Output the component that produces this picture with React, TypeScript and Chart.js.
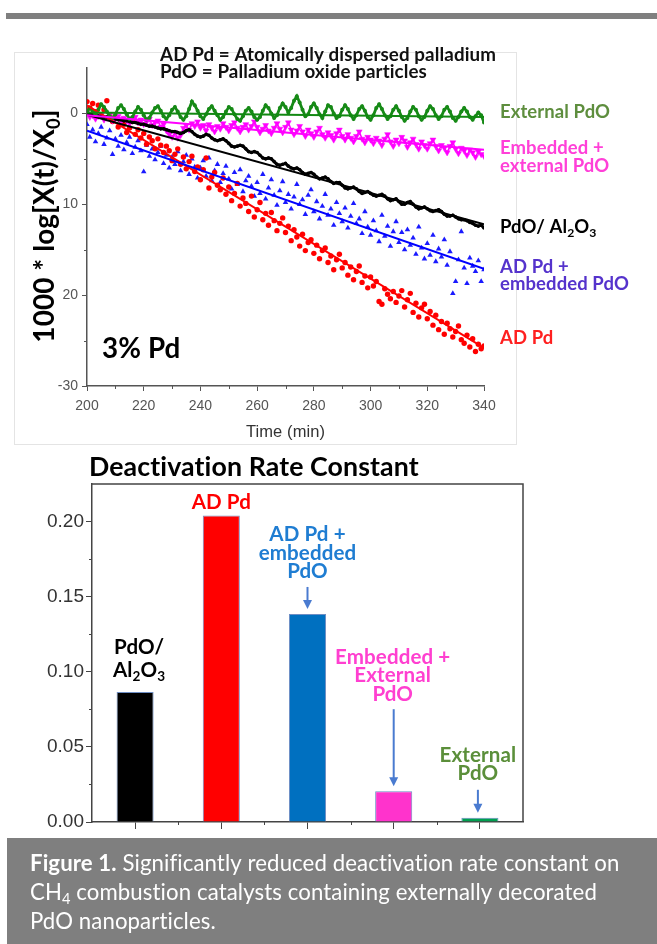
import React, { useEffect, useRef } from "react";
import { Chart, registerables } from "chart.js";

Chart.register(...registerables);

// ---------------- data: top panel (time series) ----------------
const TIME = [
  200, 201, 202, 203, 204, 205, 206, 207, 208, 209,
  210, 211, 212, 213, 214, 215, 216, 217, 218, 219,
  220, 221, 222, 223, 224, 225, 226, 227, 228, 229,
  230, 231, 232, 233, 234, 235, 236, 237, 238, 239,
  240, 241, 242, 243, 244, 245, 246, 247, 248, 249,
  250, 251, 252, 253, 254, 255, 256, 257, 258, 259,
  260, 261, 262, 263, 264, 265, 266, 267, 268, 269,
  270, 271, 272, 273, 274, 275, 276, 277, 278, 279,
  280, 281, 282, 283, 284, 285, 286, 287, 288, 289,
  290, 291, 292, 293, 294, 295, 296, 297, 298, 299,
  300, 301, 302, 303, 304, 305, 306, 307, 308, 309,
  310, 311, 312, 313, 314, 315, 316, 317, 318, 319,
  320, 321, 322, 323, 324, 325, 326, 327, 328, 329,
  330, 331, 332, 333, 334, 335, 336, 337, 338, 339,
  340,
];

const EXTERNAL_PDO = [
  0.2, 0.6, 0.3, -0.2, 0.4, 1.0, 0.7, 0.2, -0.3, -0.5,
  -0.1, 0.6, 0.9, 0.5, -0.1, -0.6, -0.4, 0.2, 0.7, 0.4,
  -0.2, -0.7, -0.5, 0.1, 0.6, 0.8, 0.3, -0.3, -0.6, -0.2,
  0.4, 0.7, 0.2, -0.4, -0.7, -0.3, 0.5, 1.3, 0.9, 0.3,
  -0.3, -0.6, -0.1, 0.5, 0.8, 0.3, -0.2, -0.7, -0.4, 0.2,
  0.7, 0.5, -0.1, -0.6, -0.8, -0.3, 0.3, 0.6, 0.2, -0.4,
  -0.7, -0.4, 0.3, 0.9, 0.6, 0.0, -0.5, -0.2, 0.6, 1.1,
  0.7, 0.1, 0.6, 1.4, 1.9, 1.2, 0.4, -0.3, -0.1, 0.7,
  1.1, 0.6, -0.1, -0.5, 0.2, 0.9, 0.7, 0.0, -0.5, -0.3,
  0.4, 0.9, 0.5, -0.2, -0.6, -0.2, 0.5, 0.8, 0.3, -0.4,
  -0.7, -0.2, 0.6, 1.0, 0.5, -0.2, -0.6, -0.3, 0.4, 0.8,
  0.3, -0.4, -0.8, -0.5, 0.2, 0.7, 0.4, -0.3, -0.7, -0.4,
  0.3, 0.8, 0.5, -0.2, -0.6, -0.3, 0.4, 0.7, 0.2, -0.5,
  -0.8, -0.4, 0.2, 0.6, 0.2, -0.4, -0.7, -0.3, 0.1, -0.2,
  -1.0,
];

const EMBEDDED_EXTERNAL_PDO = [
  0.0, -0.4, -0.2, -0.6, -0.3, -0.1, -0.7, -0.5, -0.2, -0.8,
  -0.6, -0.3, -0.9, -0.5, -0.8, -1.1, -0.6, -0.4, -1.0, -0.7,
  -1.2, -0.9, -0.6, -1.3, -1.0, -0.8, -1.5, -1.2, -1.9, -2.3,
  -2.6, -2.1, -2.7, -2.4, -1.6, -1.3, -1.8, -1.1, -1.4, -0.9,
  -1.6, -1.3, -1.9, -1.2, -1.6, -2.0, -1.4, -1.7, -1.1, -1.5,
  -1.9, -1.3, -1.0, -1.6, -2.0, -1.5, -1.2, -1.8, -1.4, -0.9,
  -1.5, -2.1, -1.7, -1.3, -1.9, -2.2, -1.6, -1.1, -1.7, -2.1,
  -1.5, -1.0, -1.8, -2.3, -1.9, -1.4, -2.0, -2.5, -1.8, -2.2,
  -2.6, -2.0, -1.6, -2.3, -2.7, -2.1, -2.4, -2.9, -2.2, -1.8,
  -2.5, -2.9, -2.3, -2.7, -3.1, -2.5, -2.0, -2.8, -3.2, -2.6,
  -2.9, -3.3, -2.7, -3.0, -3.5, -2.8, -2.3, -3.1, -3.6, -2.9,
  -3.3, -2.6, -3.0, -3.7, -3.2, -2.8, -3.4, -3.9, -3.1, -3.5,
  -3.9, -3.3, -2.9, -3.6, -4.1, -3.5, -3.8, -4.3, -3.6, -3.2,
  -3.9, -4.4, -3.8, -4.1, -4.6, -4.0, -4.3, -4.8, -4.2, -4.5,
  -4.7,
];

const PDO_AL2O3 = [
  0.0, -0.1, -0.1, -0.2, -0.3, -0.3, -0.4, -0.4, -0.5, -0.5,
  -0.6, -0.7, -0.7, -0.8, -0.8, -0.9, -1.0, -1.0, -1.1, -1.2,
  -1.2, -1.3, -1.4, -1.4, -1.5, -1.6, -1.7, -1.7, -1.8, -1.9,
  -2.0, -2.0, -2.1, -2.2, -2.1, -1.9, -1.8, -2.0, -2.3, -2.5,
  -2.6, -2.5, -2.3, -2.4, -2.7, -2.9, -3.0, -2.9, -2.8, -3.0,
  -3.3, -3.6, -3.7, -3.6, -3.5, -3.6, -3.9, -4.2, -4.3, -4.2,
  -4.3, -4.6, -4.9, -5.0, -4.9, -5.0, -5.3, -5.6, -5.7, -5.6,
  -5.5, -5.8, -6.0, -6.1, -6.0, -6.2, -6.5, -6.7, -6.6, -6.5,
  -6.7, -7.0, -7.2, -7.1, -7.0, -7.2, -7.5, -7.7, -7.6, -7.6,
  -7.9, -8.2, -8.3, -8.2, -8.1, -8.3, -8.6, -8.8, -8.7, -8.6,
  -8.8, -9.0, -9.1, -9.0, -8.9, -9.1, -9.4, -9.6, -9.5, -9.4,
  -9.7, -10.0, -10.0, -9.8, -9.7, -10.0, -10.3, -10.5, -10.4, -10.3,
  -10.5, -10.7, -10.8, -10.7, -10.6, -10.8, -11.1, -11.3, -11.3, -11.2,
  -11.4, -11.6, -11.7, -11.7, -11.8, -12.0, -12.1, -12.3, -12.4, -12.3,
  -12.6,
];

const AD_PD_EMBEDDED_PDO = [
  -1.2, -2.6, -1.8, -3.1, -2.2, -1.5, -3.4, -2.7, -1.9, -4.5,
  -2.8, -3.6, -2.4, -4.0, -3.2, -2.6, -4.4, -3.7, -3.0, -4.1,
  -6.4, -3.5, -4.7, -3.9, -5.1, -4.3, -3.6, -5.5, -4.6, -6.0,
  -4.8, -5.6, -4.2, -6.3, -5.3, -4.6, -6.7, -5.0, -5.9, -7.1,
  -6.0, -5.2, -6.9, -4.9, -7.4, -6.3, -5.6, -7.6, -6.6, -5.8,
  -7.2, -8.3, -6.5, -7.8, -6.2, -8.6, -7.4, -6.9, -8.0, -9.1,
  -7.6, -8.8, -6.7, -9.4, -8.2, -7.3, -9.0, -10.1, -8.5, -7.5,
  -9.8, -8.9, -10.5, -9.2, -7.8, -10.0, -9.5, -11.1, -9.0, -8.4,
  -10.8, -9.7, -11.6, -10.2, -8.9, -11.2, -10.5, -12.3, -9.8, -11.0,
  -11.9, -10.4, -12.6, -11.3, -9.9, -12.1, -11.6, -13.2, -10.8, -12.5,
  -13.4, -11.8, -12.9, -14.1, -11.2, -13.5, -12.4, -14.6, -13.0, -11.9,
  -14.2, -13.1, -15.0, -12.8, -14.5, -13.7, -15.5, -12.5, -14.8, -16.0,
  -14.3, -15.6, -13.4, -16.3, -14.9, -15.8, -13.9, -16.7, -15.2, -19.8,
  -18.5, -16.1, -13.0, -17.0, -18.7, -15.9, -16.8, -17.4, -16.2, -18.5,
  -17.2,
];

const AD_PD = [
  1.3, 0.6, 1.1, 0.2, 0.9, -0.3, 0.4, 1.4, -0.2, -0.9,
  -0.4, -1.5, -0.8, -1.2, -2.1, -1.6, -0.9, -2.3, -1.8, -2.7,
  -2.2, -3.4, -2.6, -3.0, -3.9, -2.8, -3.5, -4.3, -3.6, -4.1,
  -5.2, -4.5, -3.9, -5.6, -4.8, -6.1, -5.3, -4.7, -6.4, -5.9,
  -7.3, -6.2, -4.9, -8.2, -7.0, -6.5, -7.9, -8.4, -7.1, -8.9,
  -8.1, -9.6, -8.8, -7.7, -10.2, -9.3, -9.9, -10.8, -9.1, -11.4,
  -10.6, -9.8, -11.7, -11.0, -12.3, -10.9, -11.8, -12.9, -12.1, -11.5,
  -13.1, -12.4, -14.0, -12.8, -13.6, -14.6, -13.3, -15.1, -14.2, -13.9,
  -15.4, -14.5, -16.0, -15.1, -14.8, -16.4, -15.7, -17.2, -16.1, -15.5,
  -17.0, -16.4, -17.8, -16.9, -18.3, -17.4, -16.8, -18.6, -17.9, -19.2,
  -18.0, -19.0, -18.5, -20.7, -21.0, -19.3, -19.9, -20.4, -19.6, -20.8,
  -20.1, -19.5, -21.3, -20.5, -19.8, -21.9, -20.9, -22.4, -21.4, -21.0,
  -22.6, -21.8, -23.3, -22.2, -23.8, -22.9, -24.3, -23.1, -23.7, -24.6,
  -24.0, -23.4, -24.9, -25.3, -24.4, -25.7, -24.8, -26.2, -25.4, -25.9,
  -25.6,
];

// linear fits (end points)
const FIT_TIME = [200, 340];
const FIT_EXTERNAL_PDO = [0.1, -0.4];
const FIT_EMBEDDED_EXTERNAL_PDO = [-0.2, -4.0];
const FIT_PDO_AL2O3 = [-0.15, -12.2];
const FIT_AD_PD_EMBEDDED_PDO = [-1.9, -17.1];
const FIT_AD_PD = [0.9, -25.8];

const X_TICKS = [200, 220, 240, 260, 280, 300, 320, 340];
const X_MINOR = [210, 230, 250, 270, 290, 310, 330];
const Y_TICK_VALUES = [0, -10, -20, -30];
const Y_TICK_TEXT = ["0", "10", "20", "-30"];
const Y_MINOR = [-5, -15, -25];

// ---------------- data: bottom panel (bar chart) ----------------
const BAR_CATEGORIES = [
  "PdO/Al2O3",
  "AD Pd",
  "AD Pd + embedded PdO",
  "Embedded + External PdO",
  "External PdO",
];
const BAR_VALUES = [0.0865, 0.204, 0.1385, 0.0205, 0.0028];
const BAR_Y_MINOR = [0.025, 0.075, 0.125, 0.175];

// ---------------- styles ----------------
const FONT = "Lato, 'Noto Sans', sans-serif";
const ARIAL = "'Liberation Sans', Arial, sans-serif";
const BAR_COLORS = ["#000000", "#ff0000", "#0070c0", "#ff33cc", "#00a050"];
const OY = 450;

type Seg = { t: string; sub?: boolean; bold?: boolean };

function segFont(s: Seg, size: number, weight: string, family: string) {
  const w = s.bold ? "bold" : weight;
  return `${w} ${s.sub ? size * 0.66 : size}px ${family}`;
}
function setSpacing(ctx: any) {
  if ("letterSpacing" in ctx) ctx.letterSpacing = "0.1px";
}
function richWidth(ctx: CanvasRenderingContext2D, segs: Seg[], size: number, weight: string, family: string) {
  let w = 0;
  setSpacing(ctx);
  for (const s of segs) {
    ctx.font = segFont(s, size, weight, family);
    w += ctx.measureText(s.t).width;
  }
  return w;
}
function fitSize(ctx: CanvasRenderingContext2D, segs: Seg[], target: number, weight: string, family: string) {
  return (100 * target) / richWidth(ctx, segs, 100, weight, family);
}
function drawRich(
  ctx: CanvasRenderingContext2D,
  segs: Seg[],
  x: number,
  y: number,
  size: number,
  weight: string,
  family: string,
  color: string,
  align: "left" | "center" | "right" = "left"
) {
  const w = richWidth(ctx, segs, size, weight, family);
  let cx = align === "center" ? x - w / 2 : align === "right" ? x - w : x;
  ctx.fillStyle = color;
  ctx.textAlign = "left";
  ctx.textBaseline = "alphabetic";
  setSpacing(ctx);
  for (const s of segs) {
    ctx.font = segFont(s, size, weight, family);
    ctx.fillText(s.t, cx, s.sub ? y + size * 0.2 : y);
    cx += ctx.measureText(s.t).width;
  }
  if ("letterSpacing" in ctx) (ctx as any).letterSpacing = "0px";
}
const T = (t: string): Seg[] => [{ t }];

const topDecor = {
  id: "topDecor",
  beforeDraw(chart: any) {
    const ctx = chart.ctx as CanvasRenderingContext2D;
    ctx.save();
    ctx.fillStyle = "#ffffff";
    ctx.fillRect(0, 0, chart.width, chart.height);
    ctx.fillStyle = "#7f7f7f";
    ctx.fillRect(6, 13, 651, 6);
    ctx.strokeStyle = "#e4e4e4";
    ctx.lineWidth = 1;
    ctx.strokeRect(14.5, 52.5, 502, 392);
    ctx.restore();
  },
  afterDraw(chart: any) {
    const ctx = chart.ctx as CanvasRenderingContext2D;
    const xs = chart.scales.x;
    const ys = chart.scales.y;
    const area = chart.chartArea;
    ctx.save();
    // minor ticks
    ctx.strokeStyle = "#555";
    ctx.lineWidth = 1;
    for (const v of X_MINOR) {
      const px = Math.round(xs.getPixelForValue(v)) + 0.5;
      ctx.beginPath();
      ctx.moveTo(px, area.bottom);
      ctx.lineTo(px, area.bottom + 3);
      ctx.stroke();
    }
    for (const v of Y_MINOR) {
      const py = Math.round(ys.getPixelForValue(v)) + 0.5;
      ctx.beginPath();
      ctx.moveTo(area.left, py);
      ctx.lineTo(area.left - 3, py);
      ctx.stroke();
    }
    // header
    const h1 = T("AD Pd = Atomically dispersed palladium");
    const hs = fitSize(ctx, h1, 333, "bold", FONT);
    drawRich(ctx, h1, 160, 61, hs, "bold", FONT, "#111");
    drawRich(ctx, T("PdO = Palladium oxide particles"), 160, 77.5, hs, "bold", FONT, "#111");
    // 3% Pd
    const p3 = T("3% Pd");
    drawRich(ctx, p3, 102, 358, fitSize(ctx, p3, 78, "bold", FONT), "bold", FONT, "#000");
    // y title (rotated)
    const yt: Seg[] = [{ t: "1000 * log[X(t)/X" }, { t: "0", sub: true }, { t: "]" }];
    const ys2 = fitSize(ctx, yt, 232, "bold", FONT);
    ctx.save();
    ctx.translate(54, 226);
    ctx.rotate(-Math.PI / 2);
    drawRich(ctx, yt, 0, 0, ys2, "bold", FONT, "#000", "center");
    ctx.restore();
    // x title
    ctx.font = `16.5px ${ARIAL}`;
    ctx.fillStyle = "#333";
    ctx.textAlign = "center";
    ctx.textBaseline = "alphabetic";
    ctx.fillText("Time (min)", (area.left + area.right) / 2, 437);
    // right-side labels
    const ls = fitSize(ctx, T("embedded PdO"), 128, "bold", FONT);
    const lx = 500;
    drawRich(ctx, T("External PdO"), lx, 118, ls, "bold", FONT, "#5e8e3e");
    drawRich(ctx, T("Embedded +"), lx, 154, ls, "bold", FONT, "#ff40d8");
    drawRich(ctx, T("external PdO"), lx, 172, ls, "bold", FONT, "#ff40d8");
    drawRich(
      ctx,
      [{ t: "PdO/ Al" }, { t: "2", sub: true }, { t: "O" }, { t: "3", sub: true }],
      lx,
      233,
      ls,
      "bold",
      FONT,
      "#000"
    );
    drawRich(ctx, T("AD Pd +"), lx, 273, ls, "bold", FONT, "#5533cc");
    drawRich(ctx, T("embedded PdO"), lx, 290, ls, "bold", FONT, "#5533cc");
    drawRich(ctx, T("AD Pd"), lx, 344, ls, "bold", FONT, "#ff2020");
    ctx.restore();
  },
};

function arrow(ctx: CanvasRenderingContext2D, x: number, y0: number, y1: number, color: string) {
  ctx.strokeStyle = color;
  ctx.fillStyle = color;
  ctx.lineWidth = 2;
  ctx.beginPath();
  ctx.moveTo(x, y0);
  ctx.lineTo(x, y1 - 7);
  ctx.stroke();
  ctx.beginPath();
  ctx.moveTo(x - 4.5, y1 - 9);
  ctx.lineTo(x + 4.5, y1 - 9);
  ctx.lineTo(x, y1);
  ctx.closePath();
  ctx.fill();
}

const barDecor = {
  id: "barDecor",
  beforeDraw(chart: any) {
    const ctx = chart.ctx as CanvasRenderingContext2D;
    ctx.save();
    ctx.fillStyle = "#ffffff";
    ctx.fillRect(0, 0, chart.width, chart.height);
    ctx.restore();
  },
  afterDraw(chart: any) {
    const ctx = chart.ctx as CanvasRenderingContext2D;
    const xs = chart.scales.x;
    const ys = chart.scales.y;
    const area = chart.chartArea;
    ctx.save();
    // frame top + right
    ctx.strokeStyle = "#444";
    ctx.lineWidth = 1.5;
    ctx.beginPath();
    ctx.moveTo(area.left, area.top);
    ctx.lineTo(area.right, area.top);
    ctx.lineTo(area.right, area.bottom);
    ctx.stroke();
    // minor ticks
    ctx.lineWidth = 1;
    for (const v of BAR_Y_MINOR) {
      const py = Math.round(ys.getPixelForValue(v)) + 0.5;
      ctx.beginPath();
      ctx.moveTo(area.left, py);
      ctx.lineTo(area.left - 3, py);
      ctx.stroke();
    }
    for (let i = 0; i < BAR_VALUES.length - 1; i++) {
      const px = Math.round((xs.getPixelForValue(i) + xs.getPixelForValue(i + 1)) / 2) + 0.5;
      ctx.beginPath();
      ctx.moveTo(px, area.bottom);
      ctx.lineTo(px, area.bottom + 3);
      ctx.stroke();
    }

    ctx.translate(0, -OY);
    // title
    const tt = T("Deactivation Rate Constant");
    drawRich(ctx, tt, 89, 476, fitSize(ctx, tt, 328, "bold", FONT), "bold", FONT, "#000");

    const bs = fitSize(ctx, T("embedded"), 97, "bold", FONT);
    const cx = (i: number) => xs.getPixelForValue(i);
    const top = (i: number) => ys.getPixelForValue(BAR_VALUES[i]) + OY;
    // PdO/Al2O3
    drawRich(ctx, T("PdO/"), cx(0) + 4, top(0) - 38, bs, "bold", FONT, "#000", "center");
    drawRich(
      ctx,
      [{ t: "Al" }, { t: "2", sub: true }, { t: "O" }, { t: "3", sub: true }],
      cx(0) + 4,
      top(0) - 15,
      bs,
      "bold",
      FONT,
      "#000",
      "center"
    );
    // AD Pd
    drawRich(ctx, T("AD Pd"), cx(1), top(1) - 7, bs, "bold", FONT, "#ff0000", "center");
    // AD Pd + embedded PdO
    const blue = "#1f7dd2";
    drawRich(ctx, T("AD Pd +"), cx(2), top(2) - 73, bs, "bold", FONT, blue, "center");
    drawRich(ctx, T("embedded"), cx(2), top(2) - 54, bs, "bold", FONT, blue, "center");
    drawRich(ctx, T("PdO"), cx(2), top(2) - 36, bs, "bold", FONT, blue, "center");
    arrow(ctx, cx(2), top(2) - 27, top(2) - 5, "#4a7bd0");
    // Embedded + External PdO
    const pink = "#ff3fd0";
    drawRich(ctx, T("Embedded +"), cx(3) - 1, top(3) - 127, bs, "bold", FONT, pink, "center");
    drawRich(ctx, T("External"), cx(3) - 1, top(3) - 109, bs, "bold", FONT, pink, "center");
    drawRich(ctx, T("PdO"), cx(3) - 1, top(3) - 90, bs, "bold", FONT, pink, "center");
    arrow(ctx, cx(3), top(3) - 82, top(3) - 5, "#4a7bd0");
    // External PdO
    const green = "#5b8f3a";
    drawRich(ctx, T("External"), cx(4) - 2, top(4) - 56, bs, "bold", FONT, green, "center");
    drawRich(ctx, T("PdO"), cx(4) - 2, top(4) - 38, bs, "bold", FONT, green, "center");
    arrow(ctx, cx(4) - 2, top(4) - 28, top(4) - 5, "#4a7bd0");

    // caption box
    ctx.fillStyle = "#7f7f7f";
    ctx.fillRect(7, 838, 650, 106);
    const l1: Seg[] = [{ t: "Figure 1.", bold: true }, { t: " Significantly reduced deactivation rate constant on" }];
    const cs = fitSize(ctx, l1, 585, "normal", FONT);
    drawRich(ctx, l1, 30, 871, cs, "normal", FONT, "#ffffff");
    drawRich(
      ctx,
      [{ t: "CH" }, { t: "4", sub: true }, { t: " combustion catalysts containing externally decorated" }],
      30,
      900,
      cs,
      "normal",
      FONT,
      "#ffffff"
    );
    drawRich(ctx, T("PdO nanoparticles."), 30, 929, cs, "normal", FONT, "#ffffff");
    ctx.restore();
  },
};

const pts = (xs: number[], ys: number[]) => xs.map((x, i) => ({ x, y: ys[i] }));

export default function App() {
  const topRef = useRef<HTMLCanvasElement>(null);
  const botRef = useRef<HTMLCanvasElement>(null);

  useEffect(() => {
    const fit = (ys: number[], color: string) => ({
      data: pts(FIT_TIME, ys),
      showLine: true,
      borderColor: color,
      borderWidth: 2,
      pointRadius: 0,
      order: 0,
    });
    const c1 = new Chart(topRef.current as HTMLCanvasElement, {
      type: "scatter",
      data: {
        datasets: [
          fit(FIT_EXTERNAL_PDO, "#118811"),
          fit(FIT_EMBEDDED_EXTERNAL_PDO, "#ff00ff"),
          fit(FIT_PDO_AL2O3, "#000000"),
          fit(FIT_AD_PD_EMBEDDED_PDO, "#0000ff"),
          fit(FIT_AD_PD, "#ff0000"),
          {
            data: pts(TIME, EXTERNAL_PDO),
            showLine: true,
            borderColor: "#168a16",
            borderWidth: 2.8,
            pointRadius: 2,
            pointBackgroundColor: "#168a16",
            pointBorderWidth: 0,
            order: 1,
          },
          {
            data: pts(TIME, PDO_AL2O3),
            showLine: true,
            borderColor: "#000000",
            borderWidth: 3,
            pointRadius: 1.8,
            pointBackgroundColor: "#000000",
            pointBorderWidth: 0,
            order: 2,
          },
          {
            data: pts(TIME, EMBEDDED_EXTERNAL_PDO),
            showLine: true,
            borderColor: "#ff00ff",
            borderWidth: 1.5,
            pointStyle: "triangle",
            rotation: 180,
            pointRadius: 3.4,
            pointBackgroundColor: "#ff00ff",
            pointBorderColor: "#ff00ff",
            pointBorderWidth: 0.5,
            order: 3,
          },
          {
            data: pts(TIME, AD_PD),
            pointRadius: 2.7,
            pointBackgroundColor: "#ff0000",
            pointBorderColor: "#ff0000",
            pointBorderWidth: 0,
            order: 4,
          },
          {
            data: pts(TIME, AD_PD_EMBEDDED_PDO),
            pointStyle: "triangle",
            pointRadius: 3.2,
            pointBackgroundColor: "#1a1aff",
            pointBorderColor: "#1a1aff",
            pointBorderWidth: 0,
            order: 5,
          },
        ],
      },
      options: {
        animation: false,
        responsive: false,
        devicePixelRatio: 1,
        layout: { padding: { top: 68, right: 173, left: 0, bottom: 0 } },
        plugins: { legend: { display: false }, tooltip: { enabled: false }, title: { display: false } },
        scales: {
          x: {
            type: "linear",
            min: 200,
            max: 340,
            bounds: "data",
            afterFit: (s: any) => {
              s.height = 64;
            },
            afterBuildTicks: (s: any) => {
              s.ticks = X_TICKS.map((v) => ({ value: v }));
            },
            ticks: { font: { size: 14, family: ARIAL }, color: "#555", padding: 7, maxRotation: 0 },
            grid: { drawOnChartArea: false, drawTicks: true, tickLength: 5, color: "#555" },
            border: { display: true, color: "#555", width: 1.5 },
          },
          y: {
            type: "linear",
            min: -30,
            max: 5,
            bounds: "data",
            afterFit: (s: any) => {
              s.width = 87;
            },
            afterBuildTicks: (s: any) => {
              s.ticks = Y_TICK_VALUES.map((v) => ({ value: v }));
            },
            ticks: {
              font: { size: 14, family: ARIAL },
              color: "#555",
              padding: 4,
              callback: (v: any) => {
                const i = Y_TICK_VALUES.indexOf(Number(v));
                return i >= 0 ? Y_TICK_TEXT[i] : "";
              },
            },
            grid: { drawOnChartArea: false, drawTicks: true, tickLength: 5, color: "#555" },
            border: { display: true, color: "#555", width: 1.5 },
          },
        },
      },
      plugins: [topDecor],
    } as any);

    const c2 = new Chart(botRef.current as HTMLCanvasElement, {
      type: "bar",
      data: {
        labels: BAR_CATEGORIES,
        datasets: [
          {
            data: BAR_VALUES,
            backgroundColor: BAR_COLORS,
            borderColor: "#6e8ec4",
            borderWidth: 1,
            barPercentage: 0.43,
            categoryPercentage: 1,
          },
        ],
      },
      options: {
        animation: false,
        responsive: false,
        devicePixelRatio: 1,
        layout: { padding: { top: 34, right: 134, left: 0, bottom: 108 } },
        plugins: { legend: { display: false }, tooltip: { enabled: false }, title: { display: false } },
        scales: {
          x: {
            afterFit: (s: any) => {
              s.height = 14;
            },
            ticks: { display: false },
            grid: { offset: false, drawOnChartArea: false, drawTicks: true, tickLength: 7, color: "#444" },
            border: { display: true, color: "#444", width: 1.5 },
          },
          y: {
            type: "linear",
            min: 0,
            max: 0.225,
            bounds: "data",
            afterFit: (s: any) => {
              s.width = 92;
            },
            ticks: {
              stepSize: 0.05,
              includeBounds: false,
              font: { size: 19, family: ARIAL },
              color: "#333",
              padding: 2,
              callback: (v: any) => Number(v).toFixed(2),
            },
            grid: { drawOnChartArea: false, drawTicks: true, tickLength: 6, color: "#444" },
            border: { display: true, color: "#444", width: 1.5 },
          },
        },
      },
      plugins: [barDecor],
    } as any);

    return () => {
      c1.destroy();
      c2.destroy();
    };
  }, []);

  return (
    <div style={{ position: "absolute", left: 0, top: 0, width: 657, height: 944, background: "#fff" }}>
      <canvas
        ref={topRef}
        width={657}
        height={450}
        style={{ position: "absolute", left: 0, top: 0, width: 657, height: 450 }}
      />
      <canvas
        ref={botRef}
        width={657}
        height={494}
        style={{ position: "absolute", left: 0, top: OY, width: 657, height: 494 }}
      />
    </div>
  );
}
